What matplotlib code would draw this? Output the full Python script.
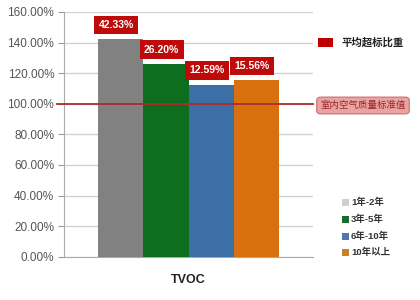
import matplotlib
matplotlib.use("Agg")
import matplotlib.pyplot as plt
from matplotlib.patches import Rectangle, FancyBboxPatch

plt.rcParams['font.family'] = ['Liberation Sans', 'Noto Sans CJK SC', 'DejaVu Sans']

categories = ["1年-2年", "3年-5年", "6年-10年", "10年以上"]
values = [1.4233, 1.2620, 1.1259, 1.1556]
labels = ["42.33%", "26.20%", "12.59%", "15.56%"]
bar_colors = ["#818181", "#0c6e1e", "#3b6fa6", "#d9700f"]
legend_colors = ["#cfcfcf", "#1a6b2a", "#4a78a8", "#c8802a"]
yticks = [0, 0.2, 0.4, 0.6, 0.8, 1.0, 1.2, 1.4, 1.6]
standard = 1.0
xlabel = "TVOC"

W, H = 420, 300
fig = plt.figure(figsize=(W / 100, H / 100), dpi=100)
ax = fig.add_axes([64 / W, 1 - 256.7 / H, 249 / W, (256.7 - 12) / H])

x = list(range(len(values)))
ax.bar(x, values, width=1.0, color=bar_colors, zorder=3)
ax.set_xlim(-1.25, 4.25)
ax.set_ylim(0, 1.6)
ax.set_yticks(yticks)
ax.set_yticklabels([f"{v*100:.2f}%" for v in yticks], fontsize=8.5, color="#555555")
ax.tick_params(axis='y', length=4, color="#999999", pad=3)
ax.tick_params(axis='x', length=0, labelbottom=False)
ax.grid(axis='y', color="#cfcfcf", lw=0.9, zorder=0)
for s in ["top", "right"]:
    ax.spines[s].set_visible(False)
ax.spines["left"].set_color("#aaaaaa")
ax.spines["bottom"].set_color("#aaaaaa")

ax.axhline(standard, xmin=-0.028, xmax=1.0, color="#b02a2a", lw=1.3, zorder=4, clip_on=False)

for xi, v, lab in zip(x, values, labels):
    ax.annotate(lab, (xi, v), xytext=(-3, 6.5), textcoords="offset points",
                ha="center", va="bottom", fontsize=7.5, fontweight="bold", color="white",
                bbox=dict(boxstyle="square,pad=0.42", fc="#bf0a0a", ec="none"), zorder=5)

# legend: average exceed ratio
fig.patches.append(Rectangle((318 / W, 1 - 47 / H), 15 / W, 9 / H, transform=fig.transFigure,
                             fc="#c00000", ec="none"))
fig.text(341 / W, 1 - 43 / H, "平均超标比重", fontsize=7.5, fontweight="bold", color="#222222",
         family=['Noto Sans CJK SC'], va="center", ha="left")

# standard value box
fig.patches.append(FancyBboxPatch((318 / W, 1 - 113 / H), 90 / W, 15 / H, transform=fig.transFigure,
                                  boxstyle="round,pad=0.003,rounding_size=0.01",
                                  fc="#eaa3a3", ec="#c87070", lw=0.8))
fig.text(363 / W, 1 - 105.5 / H, "室内空气质量标准值", fontsize=6.8, color="#9a2424",
         family=['Noto Sans CJK SC'], va="center", ha="center")

# category legend
rows = [202, 219, 236, 252]
for cat, col, yy in zip(categories, legend_colors, rows):
    fig.patches.append(Rectangle((342 / W, 1 - (yy + 3.5) / H), 7 / W, 7 / H, transform=fig.transFigure,
                                 fc=col, ec="none"))
    fig.text(351 / W, 1 - yy / H, cat, fontsize=6.8, fontweight="bold", color="#333333",
             family=['Liberation Sans', 'Noto Sans CJK SC'], va="center", ha="left")

fig.text(188 / W, 1 - 280 / H, xlabel, fontsize=9, fontweight="bold", color="#222222",
         ha="center", va="center")

fig.savefig("out.png", dpi=100, facecolor="white")
